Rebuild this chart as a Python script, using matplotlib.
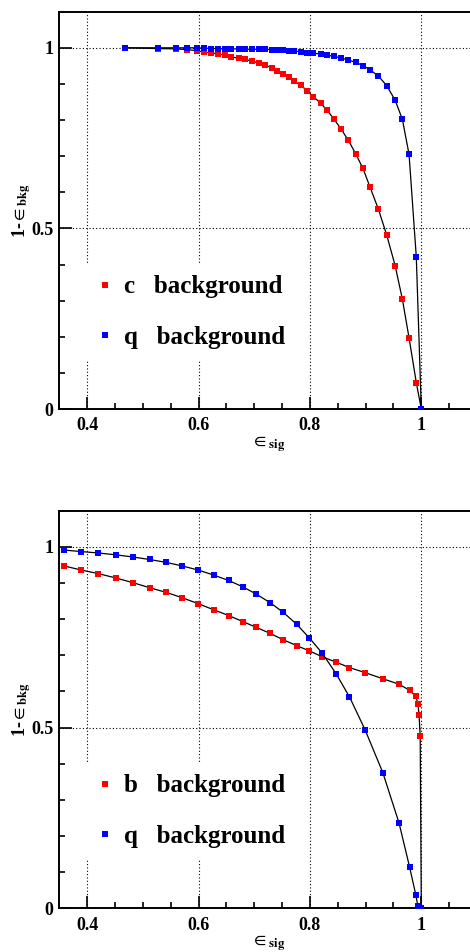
import matplotlib
matplotlib.use("Agg")
import matplotlib.pyplot as plt
from matplotlib.ticker import MultipleLocator, FixedLocator, FixedFormatter

plt.rcParams['mathtext.fontset'] = 'stix'
plt.rcParams['font.family'] = ['Liberation Serif', 'DejaVu Serif']

# ---------------- data ----------------
# top panel: signal efficiency (shared by both backgrounds)
top_eff_sig = [0.468, 0.527, 0.559, 0.580, 0.597, 0.610, 0.623, 0.635, 0.647, 0.659,
               0.672, 0.684, 0.696, 0.708, 0.720, 0.732, 0.741, 0.752, 0.762, 0.772,
               0.784, 0.795, 0.806, 0.819, 0.831, 0.843, 0.856, 0.869, 0.882, 0.895,
               0.908, 0.923, 0.938, 0.953, 0.966, 0.978, 0.991, 1.000]
top_c_rej = [1.000, 0.998, 0.997, 0.995, 0.992, 0.988, 0.986, 0.983, 0.980, 0.975,
             0.971, 0.968, 0.963, 0.958, 0.952, 0.944, 0.936, 0.928, 0.919, 0.907,
             0.896, 0.881, 0.865, 0.847, 0.827, 0.803, 0.775, 0.744, 0.707, 0.667,
             0.614, 0.553, 0.481, 0.397, 0.304, 0.197, 0.073, 0.000]
top_q_rej = [1.000, 1.000, 1.000, 1.000, 1.000, 0.999, 0.998, 0.998, 0.997, 0.997,
             0.997, 0.996, 0.996, 0.996, 0.996, 0.995, 0.994, 0.993, 0.992, 0.991,
             0.989, 0.987, 0.985, 0.983, 0.980, 0.976, 0.972, 0.966, 0.960, 0.951,
             0.939, 0.922, 0.895, 0.855, 0.802, 0.705, 0.421, 0.000]
top_labels = ['c   background', 'q   background']

# bottom panel
bot_eff_sig = [0.359, 0.389, 0.420, 0.451, 0.482, 0.512, 0.542, 0.571, 0.599, 0.627,
               0.654, 0.680, 0.704, 0.728, 0.752, 0.776, 0.799, 0.822, 0.847, 0.871,
               0.899, 0.931, 0.960, 0.979, 0.990, 0.994, 0.996, 0.998, 1.000]
bot_b_rej = [0.947, 0.936, 0.926, 0.914, 0.901, 0.887, 0.874, 0.859, 0.843, 0.826,
             0.810, 0.793, 0.777, 0.761, 0.743, 0.727, 0.712, 0.696, 0.681, 0.666,
             0.652, 0.635, 0.620, 0.603, 0.587, 0.565, 0.534, 0.476, 0.000]
bot_q_rej = [0.991, 0.987, 0.983, 0.978, 0.972, 0.965, 0.957, 0.947, 0.936, 0.922,
             0.907, 0.889, 0.869, 0.846, 0.819, 0.786, 0.748, 0.706, 0.649, 0.585,
             0.494, 0.375, 0.236, 0.114, 0.038, 0.005, 0.001, 0.000, 0.000]
bot_labels = ['b   background', 'q   background']

xtick_vals = [0.4, 0.6, 0.8, 1.0]
xtick_labels = ['0.4', '0.6', '0.8', '1']
ytick_vals = [0.0, 0.5, 1.0]
ytick_labels = ['0', '0.5', '1']
xlabel = r'$\in_{\mathbf{sig}}$'
ylabel = r'1-$\in_{\mathbf{bkg}}$'

# ---------------- figure ----------------
W, H = 470, 952
fig = plt.figure(figsize=(W / 100, H / 100), dpi=100)
fig.patch.set_facecolor('white')


def px_axes(left, top, right, bottom):
    return fig.add_axes([left / W, 1 - bottom / H, (right - left) / W, (bottom - top) / H])


def style(ax, sig, rej1, rej2, labels):
    ax.set_xlim(0.35, 1.1)
    ax.set_ylim(0.0, 1.1)
    # grid at major ticks
    for xv in xtick_vals:
        ax.axvline(xv, color='black', lw=0.8, ls=(0, (1, 2)), zorder=0.5)
    for yv in [0.5, 1.0]:
        ax.axhline(yv, color='black', lw=0.8, ls=(0, (1, 2)), zorder=0.5)
    ax.plot(sig, rej1, color='black', lw=0.9, marker='s', ms=4.0, mew=0,
            mfc='#ff0000', label=labels[0], zorder=3)
    ax.plot(sig, rej2, color='black', lw=0.9, marker='s', ms=4.0, mew=0,
            mfc='#0000ff', label=labels[1], zorder=4)
    ax.xaxis.set_major_locator(FixedLocator(xtick_vals))
    ax.xaxis.set_major_formatter(FixedFormatter(xtick_labels))
    ax.yaxis.set_major_locator(FixedLocator(ytick_vals))
    ax.yaxis.set_major_formatter(FixedFormatter(ytick_labels))
    ax.xaxis.set_minor_locator(MultipleLocator(0.05))
    ax.yaxis.set_minor_locator(MultipleLocator(0.1))
    ax.tick_params(which='both', direction='in', top=False, right=False, width=1.2)
    ax.tick_params(which='major', length=9)
    ax.tick_params(which='minor', length=4.5)
    ax.tick_params(axis='x', which='major', pad=6)
    ax.tick_params(axis='y', which='major', pad=4)
    for lab in ax.get_xticklabels() + ax.get_yticklabels():
        lab.set_fontweight('bold')
        lab.set_fontsize(13)
        lab.set_family('Liberation Serif')
    for sp in ax.spines.values():
        sp.set_linewidth(1.4)
    ax.set_xlabel(xlabel, fontsize=13, va='top')
    ax.xaxis.set_label_coords(0.5, -0.064)
    ax.set_ylabel(ylabel, fontsize=13, fontweight='bold')
    ax.yaxis.set_label_coords(-0.062, 0.5)
    leg = ax.legend(loc='upper left', bbox_to_anchor=(0.0615, 0.368), borderaxespad=0,
                    frameon=True, fancybox=False, framealpha=1.0, facecolor='white',
                    edgecolor='none', handlelength=0.6, handletextpad=0.46,
                    borderpad=0.5, labelspacing=1.09,
                    prop={'family': 'Liberation Serif', 'weight': 'bold', 'size': 18})
    for h in leg.legend_handles:
        h.set_linestyle('none')
    leg.set_zorder(5)


ax1 = px_axes(59.3, 11.7, 477.0, 409.0)
style(ax1, top_eff_sig, top_c_rej, top_q_rej, top_labels)
ax2 = px_axes(59.3, 510.7, 477.0, 908.3)
style(ax2, bot_eff_sig, bot_b_rej, bot_q_rej, bot_labels)

fig.savefig('out.png', dpi=100, facecolor='white')
